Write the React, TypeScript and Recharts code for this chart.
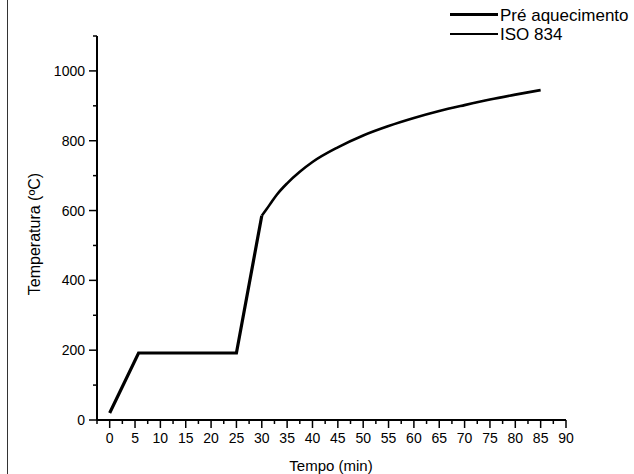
import React from "react";
import { LineChart, Line, XAxis, YAxis, Legend } from "recharts";

// Tempo (min) / Temperatura (ºC)
const preTime = [0, 5.7, 25, 30];
const preTemp = [20, 192, 192, 585];

const isoTime = [30, 31, 32, 33, 35, 37.5, 40, 45, 50, 55, 60, 65, 70, 75, 80, 85];
const isoTemp = [585, 605, 626, 646, 678, 711, 739, 781, 815, 842, 865, 885, 902, 918, 932, 945];

const xMajor = [0, 5, 10, 15, 20, 25, 30, 35, 40, 45, 50, 55, 60, 65, 70, 75, 80, 85, 90];
const xMinor = [-2.5, 2.5, 7.5, 12.5, 17.5, 22.5, 27.5, 32.5, 37.5, 42.5, 47.5, 52.5, 57.5, 62.5, 67.5, 72.5, 77.5, 82.5, 87.5];
const yMajor = [0, 200, 400, 600, 800, 1000];
const yMinor = [100, 300, 500, 700, 900, 1100];

const seriesNames = ["Pré aquecimento", "ISO 834"];

const preData = preTime.map((x, i) => ({ x, temp: preTemp[i] }));
const isoData = isoTime.map((x, i) => ({ x, temp: isoTemp[i] }));
const xTicks = [...xMinor, ...xMajor].sort((a, b) => a - b);
const yTicks = [...yMajor, ...yMinor].sort((a, b) => a - b);

const font = "'Liberation Sans', Arial, sans-serif";

const XTick = ({ x, y, payload }: any) => {
  const major = xMajor.includes(payload.value);
  return (
    <g>
      <line x1={x} x2={x} y1={y} y2={y + (major ? 8 : 4)} stroke="#000" strokeWidth={1.5} />
      {major && (
        <text x={x} y={y + 23} textAnchor="middle" fontSize={14} fontFamily={font} fill="#000">
          {payload.value}
        </text>
      )}
    </g>
  );
};

const YTick = ({ x, y, payload }: any) => {
  const major = yMajor.includes(payload.value);
  return (
    <g>
      <line x1={x - (major ? 8 : 4)} x2={x} y1={y} y2={y} stroke="#000" strokeWidth={1.5} />
      {major && (
        <text x={x - 12} y={y + 5} textAnchor="end" fontSize={14} fontFamily={font} fill="#000">
          {payload.value}
        </text>
      )}
    </g>
  );
};

const renderLegend = () => (
  <svg width={194} height={50}>
    <line x1={10} x2={58} y1={14.5} y2={14.5} stroke="#000" strokeWidth={3.2} />
    <text x={60} y={20.5} fontSize={17} fontFamily={font} fill="#000">{seriesNames[0]}</text>
    <line x1={10} x2={58} y1={34} y2={34} stroke="#000" strokeWidth={2} />
    <text x={60} y={40} fontSize={17} fontFamily={font} fill="#000">{seriesNames[1]}</text>
  </svg>
);

export default function App() {
  return (
    <div style={{ position: "absolute", left: 0, top: 0, width: 634, height: 474, background: "#fff" }}>
      <div style={{ position: "absolute", left: 7, top: 0, width: 1, height: 474, background: "#333" }} />
      <LineChart width={634} height={474} margin={{ top: 36, right: 68, left: 37, bottom: 0 }}>
        <XAxis
          dataKey="x"
          type="number"
          domain={[-2.5, 90]}
          ticks={xTicks}
          interval={0}
          height={54}
          tickSize={0}
          tickMargin={0}
          tickLine={false}
          tick={<XTick />}
          axisLine={{ stroke: "#000", strokeWidth: 2 }}
          allowDataOverflow
          label={{
            content: () => (
              <text x={331} y={471} textAnchor="middle" fontSize={15} fontFamily={font} fill="#000">
                Tempo (min)
              </text>
            ),
          }}
        />
        <YAxis
          dataKey="temp"
          type="number"
          domain={[0, 1100]}
          ticks={yTicks}
          interval={0}
          width={60}
          tickSize={0}
          tickMargin={0}
          tickLine={false}
          tick={<YTick />}
          axisLine={{ stroke: "#000", strokeWidth: 2 }}
          allowDataOverflow
          label={{
            content: () => (
              <text
                x={34}
                y={240}
                transform="rotate(-90 34 234)"
                textAnchor="middle"
                fontSize={16}
                fontFamily={font}
                fill="#000"
              >
                Temperatura (ºC)
              </text>
            ),
          }}
        />
        <Legend
          layout="vertical"
          align="center"
          verticalAlign="middle"
          content={renderLegend}
          wrapperStyle={{ top: 0, left: 440, width: 194 }}
        />
        <Line
          data={preData}
          dataKey="temp"
          name={seriesNames[0]}
          stroke="#000"
          strokeWidth={3.2}
          dot={false}
          isAnimationActive={false}
        />
        <Line
          data={isoData}
          dataKey="temp"
          name={seriesNames[1]}
          type="monotone"
          stroke="#000"
          strokeWidth={2.6}
          dot={false}
          isAnimationActive={false}
        />
      </LineChart>
    </div>
  );
}
